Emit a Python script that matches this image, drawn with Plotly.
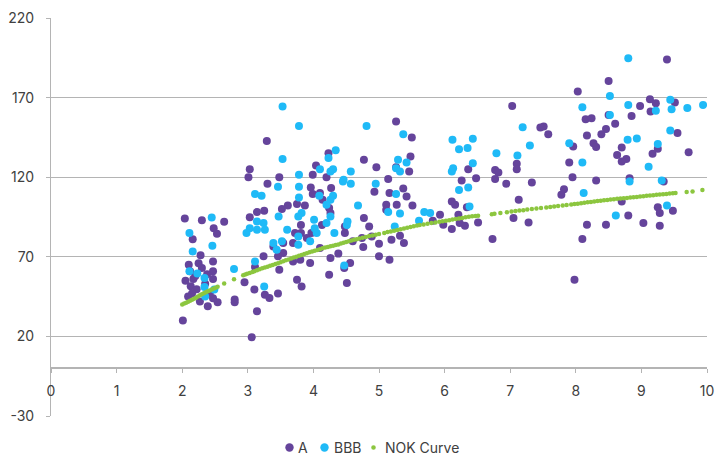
import plotly.graph_objects as go

# ---- A rated bonds (purple) ----
a_x = [2.04, 2.30, 2.64, 2.16, 2.48, 2.53, 2.28, 2.10, 2.47, 2.30, 2.47, 2.47, 2.17, 2.13, 2.22,
       2.09, 2.27, 2.39, 2.54, 2.01, 2.47, 3.06, 2.20, 2.35, 2.15, 2.42, 2.05, 2.25, 2.12, 2.38,
       3.29, 3.03, 3.01, 4.04, 4.23, 4.20, 3.99, 3.48, 3.30, 3.96, 4.27, 3.99, 4.14, 4.10, 3.52,
       3.61, 3.75, 3.87, 3.14, 3.25, 3.03, 4.24, 4.26, 3.81, 3.81, 3.72, 3.97, 4.13, 4.48, 3.69,
       3.90, 3.39, 3.54, 3.54, 3.46, 3.80, 3.69, 3.95, 4.10, 4.38, 4.26, 3.24, 3.11, 3.48, 3.75,
       3.82, 4.24, 2.95, 3.10, 3.26, 3.33, 3.46, 2.80, 2.80, 3.14, 4.51,
       5.26, 5.50, 4.77, 4.96, 5.48, 5.46, 5.26, 5.14, 4.93, 5.16, 5.37, 5.42, 5.11, 5.11, 5.27,
       5.51, 6.11, 6.16, 4.77, 4.85, 5.93, 5.82, 5.98, 6.11, 6.21, 4.48, 4.74, 4.60, 4.89, 4.76,
       5.00, 5.19, 5.32, 5.38, 5.00, 5.16, 4.56, 4.47,
       7.03, 7.51, 7.46, 7.58, 6.36, 6.26, 6.48, 6.77, 6.82, 6.77, 7.10, 7.10, 6.94, 7.33, 7.13,
       6.34, 6.23, 6.31, 6.51, 7.05, 7.28, 6.73,
       9.39, 8.50, 8.03, 9.13, 9.22, 9.51, 8.98, 9.14, 8.85, 8.50, 8.15, 8.24, 8.60, 8.46, 8.39,
       8.17, 9.55, 7.96, 8.27, 8.31, 8.70, 9.25, 9.72, 9.17, 8.63, 8.77, 8.70, 7.90, 7.95, 8.31,
       8.82, 9.34, 7.82, 7.78, 8.70, 9.25, 9.28, 9.48, 8.80, 8.17, 8.46, 9.03, 9.28, 8.10, 7.98]
a_y = [94, 93, 92, 81, 88, 84.5, 71, 65, 67, 63, 61, 56, 56, 51.5, 49.6,
       45, 42, 39, 41.5, 30, 44, 19.5, 58, 53, 47, 47, 55, 66, 61, 59,
       142.8, 125, 120, 127.4, 135, 120, 121.5, 120, 115.9, 113.5, 113.2, 109.4, 105.8, 110, 100,
       102.3, 103.1, 102.3, 98.1, 98.9, 94.8, 100.6, 97.5, 90, 85, 85, 85, 90, 85, 78.6,
       81.8, 76.5, 78.6, 72.4, 70.3, 68.2, 67.1, 66.1, 75.5, 72, 69.2, 70.3, 63.6, 61.9, 55.6,
       51.4, 58.8, 54, 49.4, 46.2, 44.1, 46.9, 43.1, 41.5, 35.8, 53.5,
       155, 144.9, 131, 126.3, 133, 123.6, 126.3, 118.8, 110.8, 110, 112.9, 107.9, 102.7, 99.5, 102.7,
       102.3, 104.8, 102.7, 94.3, 89.1, 96.4, 92.6, 90.1, 87.4, 96.4, 89.1, 81.8, 79.7, 82.8, 76.1,
       78.2, 80.7, 83.2, 78.6, 70.3, 68.2, 66.1, 63,
       164.8, 151.8, 151.2, 147, 125, 118, 119.4, 124.6, 123, 118.8, 128.4, 125, 115.9, 116.7, 105.8,
       101.2, 91.2, 89.5, 91.6, 94.3, 91.6, 81.2,
       194, 180.5, 173.8, 169, 166.5, 166.9, 164.8, 161.2, 158.5, 159.1, 156.4, 157, 153.5, 150.2, 147,
       146.2, 147.7, 139.3, 141.4, 138.9, 138.6, 137.8, 135.7, 134.7, 134, 131.5, 129.8, 129.2, 120, 117.9,
       119.4, 117.3, 112.5, 109, 104.8, 101.2, 97.5, 99, 96, 90.1, 90.1, 91.2, 89.5, 81.2, 55.6]

# ---- BBB rated bonds (cyan) ----
bbb_x = [2.45, 2.11, 2.16, 2.46, 2.11, 2.23, 2.34, 2.34, 2.49, 2.35,
         3.53, 3.78, 3.53, 4.23, 4.34, 4.10, 4.26, 4.30, 4.46, 3.78, 3.78, 3.46, 3.78, 3.11, 3.21,
         4.09, 4.30, 4.26, 4.20, 4.26, 4.20, 3.47, 3.82, 3.77, 4.01, 3.14, 3.24, 3.03, 2.98, 3.26,
         3.14, 3.60, 4.02, 4.05, 4.32, 4.51, 3.77, 3.95, 3.77, 3.39, 3.52, 3.44, 3.11, 2.79, 4.47, 3.25,
         4.81, 5.37, 6.12, 6.22, 5.29, 5.42, 5.26, 5.32, 6.13, 6.11, 4.57, 4.45, 4.57, 4.95, 6.22,
         4.68, 5.26, 5.14, 5.32, 5.69, 5.78, 5.61, 5.24, 4.52,
         7.19, 6.43, 6.35, 7.30, 6.79, 7.11, 6.43, 6.36, 6.38,
         8.80, 8.52, 8.10, 8.80, 9.44, 9.22, 9.46, 9.70, 9.94, 8.52, 9.44, 8.79, 8.93, 9.25, 7.90,
         8.10, 9.11, 8.82, 9.31, 8.12, 9.39, 8.61]
bbb_y = [94.7, 85, 73.4, 77, 61, 59.5, 56.7, 51, 49.5, 45,
         164.4, 152.2, 131.5, 132, 137, 125, 123.6, 125, 118.4, 121.5, 114, 114, 107.3, 109.4, 108.3,
         108.3, 108.3, 105.8, 102.7, 95.3, 91.2, 95.3, 97.5, 95.3, 93.3, 92.2, 91.2, 88, 85, 87,
         87, 87, 88, 85, 85, 90, 82.8, 79.7, 77.6, 78.6, 79.7, 74.5, 67.1, 62.3, 64.6, 51.4,
         152.2, 147, 143.5, 137.6, 131, 129.2, 125.7, 123.6, 125.7, 123.6, 123.6, 117.3, 115.9, 115.9, 112,
         102.3, 109.4, 98.1, 97.2, 98.1, 97.5, 92.6, 89.1, 92.2,
         151.4, 144.1, 138.3, 139.9, 135.1, 133.6, 128.8, 113.5, 101.6,
         194.7, 171, 164, 165.4, 168.6, 161.8, 162.7, 163.4, 165.4, 159.1, 149.3, 143.5, 144.3, 140.8, 141.4,
         129.2, 126.5, 117.3, 117.9, 110, 102.3, 96]

# ---- NOK curve (green) ----
nok_x = [2.00, 2.03, 2.06, 2.09, 2.12, 2.15, 2.18, 2.21, 2.24, 2.27, 2.30, 2.33, 2.36, 2.39, 2.42,
         2.45, 2.48, 2.51, 2.54, 2.64, 2.79, 2.93, 2.96, 2.99, 3.03, 3.07, 3.10, 3.14, 3.18, 3.22,
         3.26, 3.30, 3.34, 3.38, 3.42, 3.46, 3.50, 3.54, 3.58, 3.62, 3.66, 3.70, 3.74, 3.78, 3.82,
         3.86, 3.90, 3.94, 3.98, 4.02, 4.06, 4.10, 4.14, 4.18, 4.22, 4.26, 4.30, 4.34, 4.38, 4.42,
         4.46, 4.50, 4.54, 4.58, 4.62, 4.66, 4.70, 4.75, 4.80, 4.85, 4.90, 4.95, 5.00, 5.08, 5.13,
         5.18, 5.23, 5.28, 5.33, 5.38, 5.43, 5.48, 5.53, 5.58, 5.62, 5.68, 5.74, 5.80, 5.86, 5.92,
         5.97, 6.02, 6.07, 6.12, 6.17, 6.22, 6.27, 6.32, 6.37, 6.42, 6.47, 6.51, 6.72, 6.76, 6.85,
         6.95, 7.02, 7.08, 7.14, 7.20, 7.26, 7.33, 7.40, 7.47, 7.55, 7.61, 7.67, 7.73, 7.80, 7.86,
         7.93, 7.98, 8.03, 8.08, 8.13, 8.18, 8.23, 8.28, 8.33, 8.38, 8.43, 8.48, 8.53, 8.58, 8.63,
         8.68, 8.73, 8.78, 8.83, 8.88, 8.93, 8.98, 9.03, 9.08, 9.13, 9.18, 9.23, 9.28, 9.33, 9.38,
         9.43, 9.48, 9.52, 9.69, 9.78, 9.93]
nok_y = [40.0, 40.6, 41.2, 41.8, 42.4, 43.0, 43.6, 44.2, 45.0, 45.8, 46.5, 47.1, 47.7, 48.3, 48.9,
         49.5, 50.1, 50.6, 51.2, 53.2, 55.9, 58.4, 58.9, 59.4, 59.9, 60.5, 61.0, 61.6, 62.2, 62.8,
         63.3, 63.8, 64.3, 64.8, 65.4, 66.0, 66.6, 67.2, 67.8, 68.3, 68.9, 69.5, 70.1, 70.7, 71.2,
         71.7, 72.3, 72.8, 73.3, 73.8, 74.3, 74.8, 75.3, 75.8, 76.2, 76.6, 77.0, 77.4, 77.8, 78.3,
         78.8, 79.3, 79.8, 80.3, 80.7, 81.1, 81.5, 82.0, 82.5, 83.0, 83.4, 83.9, 84.3, 85.0, 85.5,
         85.9, 86.3, 86.8, 87.3, 87.8, 88.3, 88.7, 89.2, 89.6, 90.0, 90.3, 90.8, 91.2, 91.6, 92.0,
         92.3, 92.6, 93.0, 93.4, 93.7, 94.1, 94.4, 94.8, 95.1, 95.4, 95.6, 95.8, 96.8, 97.0, 97.5,
         98.0, 98.5, 98.8, 99.1, 99.3, 99.7, 100.0, 100.3, 100.6, 101.0, 101.3, 101.6, 101.9, 102.2, 102.5,
         102.8, 103.1, 103.3, 103.6, 103.9, 104.2, 104.5, 104.8, 105.0, 105.2, 105.5, 105.7, 106.0, 106.2, 106.4,
         106.6, 106.8, 107.0, 107.2, 107.4, 107.6, 107.8, 108.1, 108.3, 108.5, 108.7, 108.9, 109.1, 109.3, 109.5,
         109.7, 109.9, 110.0, 110.7, 111.0, 112.0]

x_ticks = [0, 1, 2, 3, 4, 5, 6, 7, 8, 9, 10]
y_ticks = [-30, 20, 70, 120, 170, 220]
y_tick_labels = ["-30", "20", "70", "120", "170", "220"]
legend_labels = ["A", "BBB", "NOK Curve"]

PURPLE = "#65449b"
CYAN = "#1fbaf7"
GREEN = "#8cc63f"
GRID = "#b4b4b4"
TEXT = "#404040"
FONT = "Inter, Roboto, 'Liberation Sans', sans-serif"

fig = go.Figure()
fig.add_trace(go.Scatter(x=a_x, y=a_y, mode="markers", name=legend_labels[0], showlegend=False,
                         marker=dict(color=PURPLE, size=8, line=dict(width=0))))
fig.add_trace(go.Scatter(x=bbb_x, y=bbb_y, mode="markers", name=legend_labels[1], showlegend=False,
                         marker=dict(color=CYAN, size=8, line=dict(width=0))))
fig.add_trace(go.Scatter(x=nok_x, y=nok_y, mode="markers", name=legend_labels[2], showlegend=False,
                         marker=dict(color=GREEN, size=4.5, line=dict(width=0))))

# compact legend row below the plot (paper coordinates)
PLOT_L, PLOT_W, PLOT_B, PLOT_H = 51, 656, 416, 398
def px2paper(px, py):
    return (px - PLOT_L) / PLOT_W, (PLOT_B - py) / PLOT_H

legend_items = [(legend_labels[0], PURPLE, 289.5, 297, 4.2),
                (legend_labels[1], CYAN, 324.5, 332.5, 4.2),
                (legend_labels[2], GREEN, 373.5, 383.5, 2.3)]
row_y = 447.5
for label, color, mx, tx, r in legend_items:
    xm, ym = px2paper(mx, row_y)
    fig.add_shape(type="circle", xref="paper", yref="paper", xsizemode="pixel", ysizemode="pixel",
                  xanchor=xm, yanchor=ym, x0=-r, x1=r, y0=-r, y1=r,
                  fillcolor=color, line=dict(width=0), layer="above")
    xt, yt = px2paper(tx, row_y)
    fig.add_annotation(text=label, xref="paper", yref="paper", x=xt, y=yt,
                       xanchor="left", yanchor="middle", showarrow=False,
                       font=dict(family=FONT, size=14, color=TEXT), borderpad=0)

fig.update_layout(
    width=721, height=455,
    margin=dict(l=51, r=14, t=18, b=39),
    paper_bgcolor="white", plot_bgcolor="white",
    font=dict(family=FONT, size=14, color=TEXT),
    showlegend=False,
    xaxis=dict(range=[0, 10], tickvals=x_ticks, showgrid=False, zeroline=False,
               showline=True, linecolor=GRID, linewidth=1.5,
               anchor="free", position=0.12,
               ticks="outside", ticklen=4, tickcolor=GRID, tickwidth=1,
               ticklabelstandoff=6, automargin=False),
    yaxis=dict(range=[-30, 220], tickvals=y_ticks, ticktext=y_tick_labels,
               showgrid=True, gridcolor=GRID, gridwidth=1,
               zeroline=False, showline=True, linecolor=GRID, linewidth=1,
               ticks="outside", ticklen=4, tickcolor=GRID,
               ticklabelstandoff=9, automargin=False),
)

fig.write_html("out.html", config={"displayModeBar": False},
               post_script="document.body.style.margin='0';document.body.style.padding='0';")
